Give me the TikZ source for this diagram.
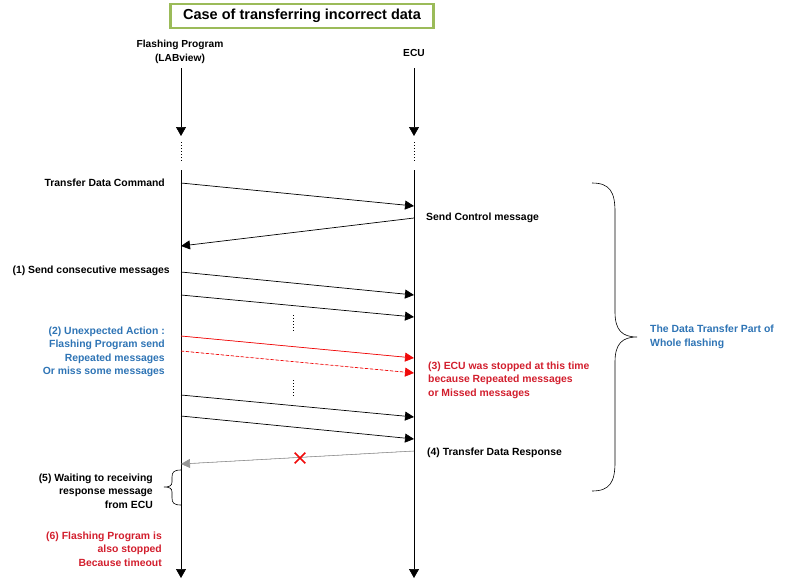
\documentclass[tikz,border=0pt]{standalone}
\usepackage{fontspec}
\setmainfont{Liberation Sans}
\usetikzlibrary{positioning}
\usetikzlibrary{arrows.meta}
\usetikzlibrary{shapes.misc}
\definecolor{figAzul}{RGB}{46,116,181}
\definecolor{figRojo}{RGB}{210,30,45}
\definecolor{figRojoFlecha}{RGB}{240,10,10}
\definecolor{figGris}{RGB}{150,150,150}
\definecolor{figVerdeBorde}{RGB}{155,187,89}
\tikzset{
  titulo/.style={
    rectangle, draw=figVerdeBorde, line width=2.2pt, fill=white,
    minimum width=263pt, minimum height=24pt,
    font=\bfseries\fontsize{14.5}{16}\selectfont, inner sep=3pt
  },
  cabecera/.style={align=center, font=\bfseries\fontsize{10.2}{13.5}\selectfont, inner sep=0pt},
  etiqueta/.style={font=\bfseries\fontsize{10.4}{13.5}\selectfont, inner sep=0pt},
  vida/.style={-{Triangle[length=9pt,width=10pt]}, line width=0.7pt},
  puntos/.style={dotted, line width=1pt},
  flecha/.style={-{Triangle[length=9pt,width=9pt]}, line width=0.7pt},
  flechar/.style={-{Triangle[length=9pt,width=9pt]}, line width=0.7pt, draw=figRojoFlecha, fill=figRojoFlecha},
  flechag/.style={-{Triangle[length=9pt,width=9pt]}, line width=0.6pt, draw=figGris, fill=black},
  llave/.style={line width=0.6pt}
}
\begin{document}
\begin{tikzpicture}[x=1pt, y=-1pt]
  \useasboundingbox (0,0) rectangle (800,584);

  % Titulo y cabeceras
  \node[titulo] (title) at (302,16) {Case of transferring incorrect data};
  \node[cabecera] (fp) at (180,52) {Flashing Program\\(LABview)};
  \node[cabecera] (ecu) at (414,53) {ECU};

  % Lineas de vida
  \foreach \nombre/\x in {fp/181, ecu/414} {
    \coordinate (\nombre A) at (\x,68);
    \coordinate (\nombre B) at (\x,136);
    \coordinate (\nombre C) at (\x,142);
    \coordinate (\nombre D) at (\x,162);
    \coordinate (\nombre E) at (\x,170);
    \coordinate (\nombre F) at (\x,578);
    \draw[vida] (\nombre A) -- (\nombre B);
    \draw[puntos] (\nombre C) -- (\nombre D);
    \draw[vida] (\nombre E) -- (\nombre F);
  }

  % Extremos de los mensajes
  \foreach \n/\ya/\yb in {1/183/206, 3/272/295, 4/295/317, 5/336/358, 6/351/373, 7/395/417, 8/416/439} {
    \coordinate (m\n a) at (181,\ya);
    \coordinate (m\n b) at (414,\yb);
  }
  \coordinate (m2a) at (414,218);
  \coordinate (m2b) at (181,246);
  \coordinate (m9a) at (414,451);
  \coordinate (m9b) at (181,464);

  % Mensajes
  \draw[flecha] (m1a) -- (m1b);
  \draw[flecha] (m2a) -- (m2b);
  \draw[flecha] (m3a) -- (m3b);
  \draw[flecha] (m4a) -- (m4b);
  \draw[flechar] (m5a) -- (m5b);
  \draw[flechar, densely dashed] (m6a) -- (m6b);
  \draw[flecha] (m7a) -- (m7b);
  \draw[flecha] (m8a) -- (m8b);
  \draw[flechag] (m9a) -- (m9b);

  % Mensajes omitidos
  \coordinate (dotsA1) at (293,315);
  \coordinate (dotsA2) at (293,331);
  \coordinate (dotsB1) at (293,380);
  \coordinate (dotsB2) at (293,396);
  \draw[puntos] (dotsA1) -- (dotsA2);
  \draw[puntos] (dotsB1) -- (dotsB2);
  \node[cross out, draw=figRojoFlecha, line width=1.6pt, minimum size=9pt, inner sep=0pt] (lost) at (300,458) {};

  % Etiquetas
  \node[etiqueta, anchor=east] (tdc) at (165,183) {Transfer Data Command};
  \node[etiqueta, anchor=west] (scm) at (426,218) {Send Control message};
  \node[etiqueta, anchor=east] (scons) at (170,271) {(1) Send consecutive messages};
  \node[etiqueta, anchor=east, align=right, text=figAzul] (unexp) at (165,352)
        {(2) Unexpected Action :\\Flashing Program send\\Repeated messages\\Or miss some messages};
  \node[etiqueta, anchor=west, align=left, text=figRojo] (stop) at (428,380)
        {(3) ECU was stopped at this time\\because Repeated messages\\or Missed messages};
  \node[etiqueta, anchor=west] (tdr) at (427,453) {(4) Transfer Data Response};
  \node[etiqueta, anchor=east, align=right] (wait) at (153,491)
        {(5) Waiting to receiving\\response message\\from ECU};
  \node[etiqueta, anchor=east, align=right, text=figRojo] (timeout) at (162,549)
        {(6) Flashing Program is\\also stopped\\Because timeout};
  \node[etiqueta, anchor=west, align=left, text=figAzul] (part) at (650,337)
        {The Data Transfer Part of\\Whole flashing};

  % Llaves
  \draw[llave] (181,470) .. controls (174,470) and (172,472) .. (172,477)
    -- (172,482) .. controls (172,486) and (169,487) .. (164,487)
    .. controls (169,487) and (172,488) .. (172,492)
    -- (172,498) .. controls (172,503) and (174,505) .. (181,505);
  \draw[llave] (592,183) .. controls (610,183) and (615,192) .. (615,212)
    -- (615,312) .. controls (615,330) and (622,337) .. (637,337)
    .. controls (622,337) and (615,344) .. (615,362)
    -- (615,462) .. controls (615,482) and (610,491) .. (592,491);
\end{tikzpicture}
\end{document}
